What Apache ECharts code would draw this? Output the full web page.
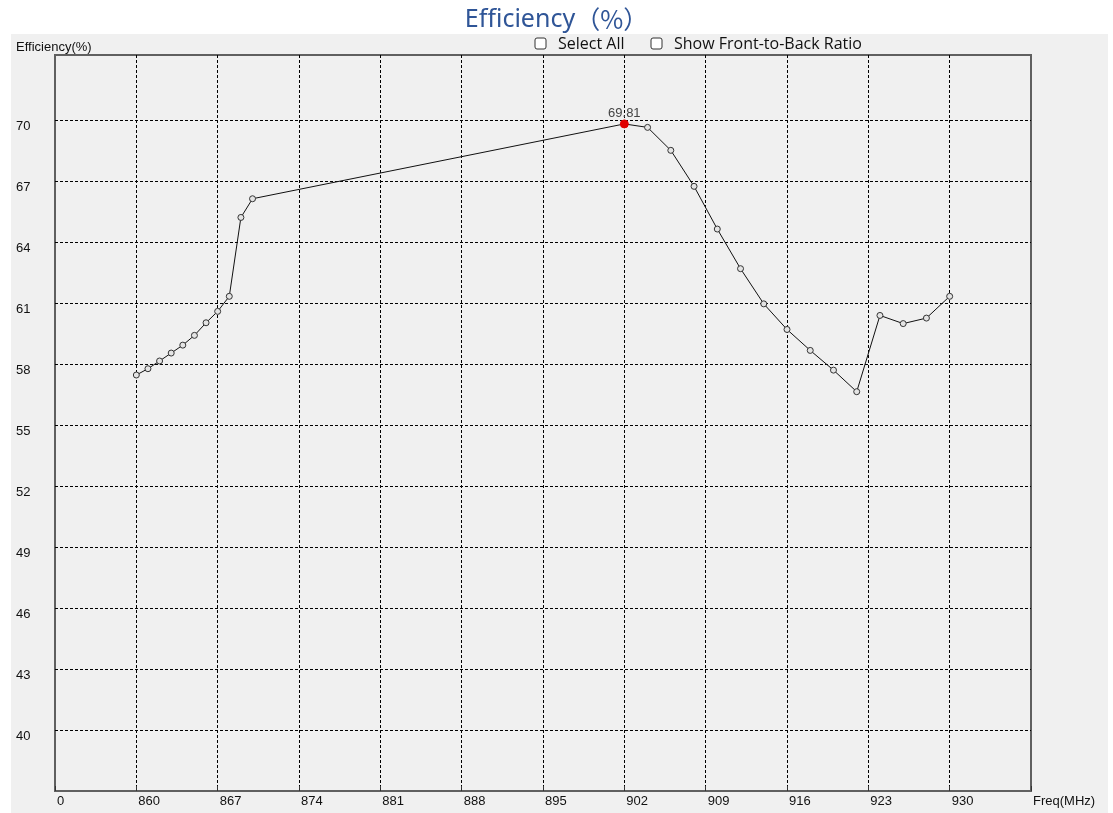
<!DOCTYPE html>
<html>
<head>
<meta charset="utf-8">
<title>Efficiency</title>
<script src="https://cdn.jsdelivr.net/npm/echarts@6/dist/echarts.min.js"></script>
<style>
    html, body {margin: 0; padding: 0; background: #fff;}
    #main {width: 1113px; height: 813px;}
</style>
</head>
<body>
<div id="main"></div>
<script>
// frequency points (MHz) and measured efficiency (%)
const freqs = [860, 861, 862, 863, 864, 865, 866, 867, 868, 869, 870,
    902, 904, 906, 908, 910, 912, 914, 916, 918, 920, 922, 924, 926, 928, 930];
const efficiency = [57.46, 57.77, 58.15, 58.54, 58.93, 59.41, 60.03, 60.59, 61.33, 65.21, 66.13,
    69.81, 69.64, 68.51, 66.74, 64.64, 62.69, 60.96, 59.70, 58.67, 57.70, 56.64, 60.39, 59.99, 60.26, 61.33];
const xTickLabels = ['0', '860', '867', '874', '881', '888', '895', '902', '909', '916', '923', '930', ''];
const yTickLabels = ['40', '43', '46', '49', '52', '55', '58', '61', '64', '67', '70'];

const peakIndex = efficiency.indexOf(Math.max(...efficiency));
const seriesData = freqs.map((f, i) => {
    if (i === peakIndex) {
        return {
            value: [f, efficiency[i]],
            symbolSize: 8,
            itemStyle: {color: '#e00000', borderColor: '#e00000'},
            label: {
                show: true,
                position: 'top',
                distance: 0,
                formatter: p => p.value[1].toFixed(2),
                color: '#444',
                fontSize: 13,
                fontFamily: 'Liberation Sans'
            }
        };
    }
    return [f, efficiency[i]];
});

// y split lines: 40..70 dashed, the 73 line is hidden (not in the original)
const ySplitColors = yTickLabels.map(() => '#000').concat(['rgba(0,0,0,0)']);

const labelFont = {color: '#111', fontSize: 13, fontFamily: 'Liberation Sans'};

const myChart = echarts.init(document.getElementById('main'));
myChart.setOption({
    animation: false,
    title: {
        text: '{a|Efficiency}{b|（%）}',
        left: 'center',
        top: 2,
        textStyle: {
            fontWeight: 'normal',
            rich: {
                a: {color: '#2f5597', fontSize: 25, fontWeight: 'normal', fontFamily: 'Noto Sans'},
                b: {color: '#2f5597', fontSize: 25, fontWeight: 'normal', fontFamily: 'Noto Sans CJK SC'}
            }
        }
    },
    graphic: [
        {type: 'rect', z: -100, silent: true, shape: {x: 11, y: 34, width: 1097, height: 779}, style: {fill: '#f0f0f0'}},
        {type: 'rect', shape: {x: 535, y: 38, width: 11, height: 11, r: 2}, style: {fill: '#fff', stroke: '#333', lineWidth: 1}},
        {type: 'text', x: 558, y: 44, style: {text: 'Select All', fill: '#111', font: '16px "Open Sans"', textVerticalAlign: 'middle'}},
        {type: 'rect', shape: {x: 651, y: 38, width: 11, height: 11, r: 2}, style: {fill: '#fff', stroke: '#333', lineWidth: 1}},
        {type: 'text', x: 674, y: 44, style: {text: 'Show Front-to-Back Ratio', fill: '#111', font: '16px "Open Sans"', textVerticalAlign: 'middle'}},
        {type: 'text', x: 16, y: 47, style: {text: 'Efficiency(%)', fill: '#111', font: '13px "Liberation Sans"', textVerticalAlign: 'middle'}}
    ],
    grid: {
        left: 55,
        top: 55,
        right: 82,
        bottom: 22,
        show: true,
        backgroundColor: '#f0f0f0',
        borderColor: '#606060',
        borderWidth: 2
    },
    xAxis: {
        type: 'value',
        min: 853,
        max: 937,
        interval: 7,
        name: 'Freq(MHz)',
        nameLocation: 'end',
        nameGap: 2,
        nameTextStyle: Object.assign({verticalAlign: 'top', align: 'left', padding: [4, 0, 0, 0]}, labelFont),
        axisLine: {show: false},
        axisTick: {show: true, inside: true, length: 5, lineStyle: {color: '#333'}},
        axisLabel: Object.assign({
            align: 'left',
            margin: 4,
            padding: [0, 0, 0, 2],
            formatter: (v, idx) => xTickLabels[idx] || ''
        }, labelFont),
        splitLine: {
            show: true,
            showMinLine: false,
            showMaxLine: false,
            lineStyle: {color: '#000', type: [3, 2], width: 1}
        }
    },
    yAxis: {
        type: 'value',
        min: 37,
        max: 73.2,
        interval: 3,
        axisLine: {show: false},
        axisTick: {show: false},
        axisLabel: Object.assign({
            align: 'left',
            margin: 39,
            verticalAlign: 'top',
            formatter: v => yTickLabels.indexOf(String(v)) > -1 ? String(v) : ''
        }, labelFont),
        splitLine: {
            show: true,
            showMinLine: false,
            showMaxLine: false,
            lineStyle: {color: ySplitColors, type: [3, 2], width: 1}
        }
    },
    series: [
        {
            name: 'Efficiency',
            type: 'line',
            data: seriesData,
            symbol: 'circle',
            symbolSize: 6,
            showAllSymbol: true,
            itemStyle: {color: '#e4e4e4', borderColor: '#333', borderWidth: 1},
            lineStyle: {color: '#111', width: 1}
        }
    ]
});
</script>
</body>
</html>
